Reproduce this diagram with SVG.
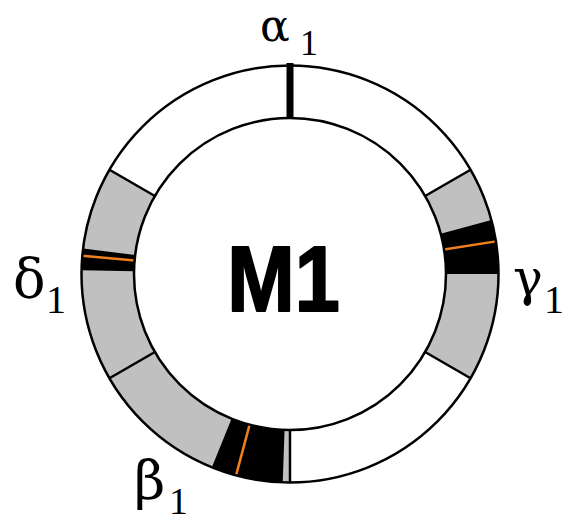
<svg xmlns="http://www.w3.org/2000/svg" width="569" height="521" viewBox="0 0 569 521">
<style>
.ring{fill:none;stroke:#000;stroke-width:2.5}
.gray{fill:#c0c0c0;stroke:none}
.blk{fill:#000;stroke:none}
.div{stroke:#000;stroke-width:2.5;fill:none}
.or{stroke:#f0801e;stroke-width:2.5;fill:none}
.gk{font-family:"DejaVu Serif","Liberation Serif",serif;fill:#000}
.sub{font-family:"Liberation Serif","Times New Roman",serif;fill:#000}
.m{font-family:"Liberation Sans",Arial,sans-serif;font-weight:bold;fill:#000;stroke:#000;stroke-width:2;stroke-linejoin:round}
</style>
<rect width="569" height="521" fill="#fff"/>
<g id="ring">
<path class="gray" d="M470.56,169.75 A208.5,208.5 0 0 1 470.56,378.25 L425.1,352 A156,156 0 0 0 425.1,196 Z"/>
<path class="gray" d="M290,482.5 A208.5,208.5 0 0 1 109.44,169.75 L154.9,196 A156,156 0 0 0 290,430 Z"/>
<path class="blk" d="M491.4,220.04 A208.5,208.5 0 0 1 498.5,274 L446,274 A156,156 0 0 0 440.68,233.63 Z"/>
<path class="blk" d="M282.72,482.37 A208.5,208.5 0 0 1 211.9,467.32 L231.56,418.64 A156,156 0 0 0 284.56,429.9 Z"/>
<path class="blk" d="M81.54,270.35 A208.5,208.5 0 0 1 83.06,248.58 L135.17,254.98 A156,156 0 0 0 134.03,271.27 Z"/>
<line class="or" x1="495.94" y1="241.39" x2="444.08" y2="249.6"/>
<line class="or" x1="236.04" y1="475.4" x2="249.63" y2="424.68"/>
<line class="or" x1="82.29" y1="255.82" x2="134.59" y2="260.4"/>
<line class="div" x1="470.56" y1="169.75" x2="425.1" y2="196"/>
<line class="div" x1="470.56" y1="378.25" x2="425.1" y2="352"/>
<line class="div" x1="290" y1="482.5" x2="290" y2="430"/>
<line class="div" x1="109.44" y1="378.25" x2="154.9" y2="352"/>
<line class="div" x1="109.44" y1="169.75" x2="154.9" y2="196"/>
<line stroke="#000" stroke-width="7" x1="290" y1="63" x2="290" y2="119"/>
<circle class="ring" cx="290" cy="274" r="208.5"/>
<circle class="ring" cx="290" cy="274" r="156"/>
</g>
<g id="label-center" transform="translate(283.5,311) scale(0.88,1)">
<text class="m" x="0" y="0" font-size="92" text-anchor="middle">M1</text>
</g>
<g id="label-alpha">
<text class="gk" x="260" y="41" font-size="44">α</text>
<text class="sub" x="300" y="55" font-size="36">1</text>
</g>
<g id="label-delta">
<text class="gk" x="13" y="297" font-size="54">δ</text>
<text class="sub" x="46" y="313" font-size="40">1</text>
</g>
<g id="label-gamma">
<text class="gk" x="513" y="295" font-size="50">γ</text>
<text class="sub" x="544" y="313" font-size="40">1</text>
</g>
<g id="label-beta">
<text class="gk" x="134" y="499" font-size="54">β</text>
<text class="sub" x="169" y="514" font-size="38">1</text>
</g>
</svg>
